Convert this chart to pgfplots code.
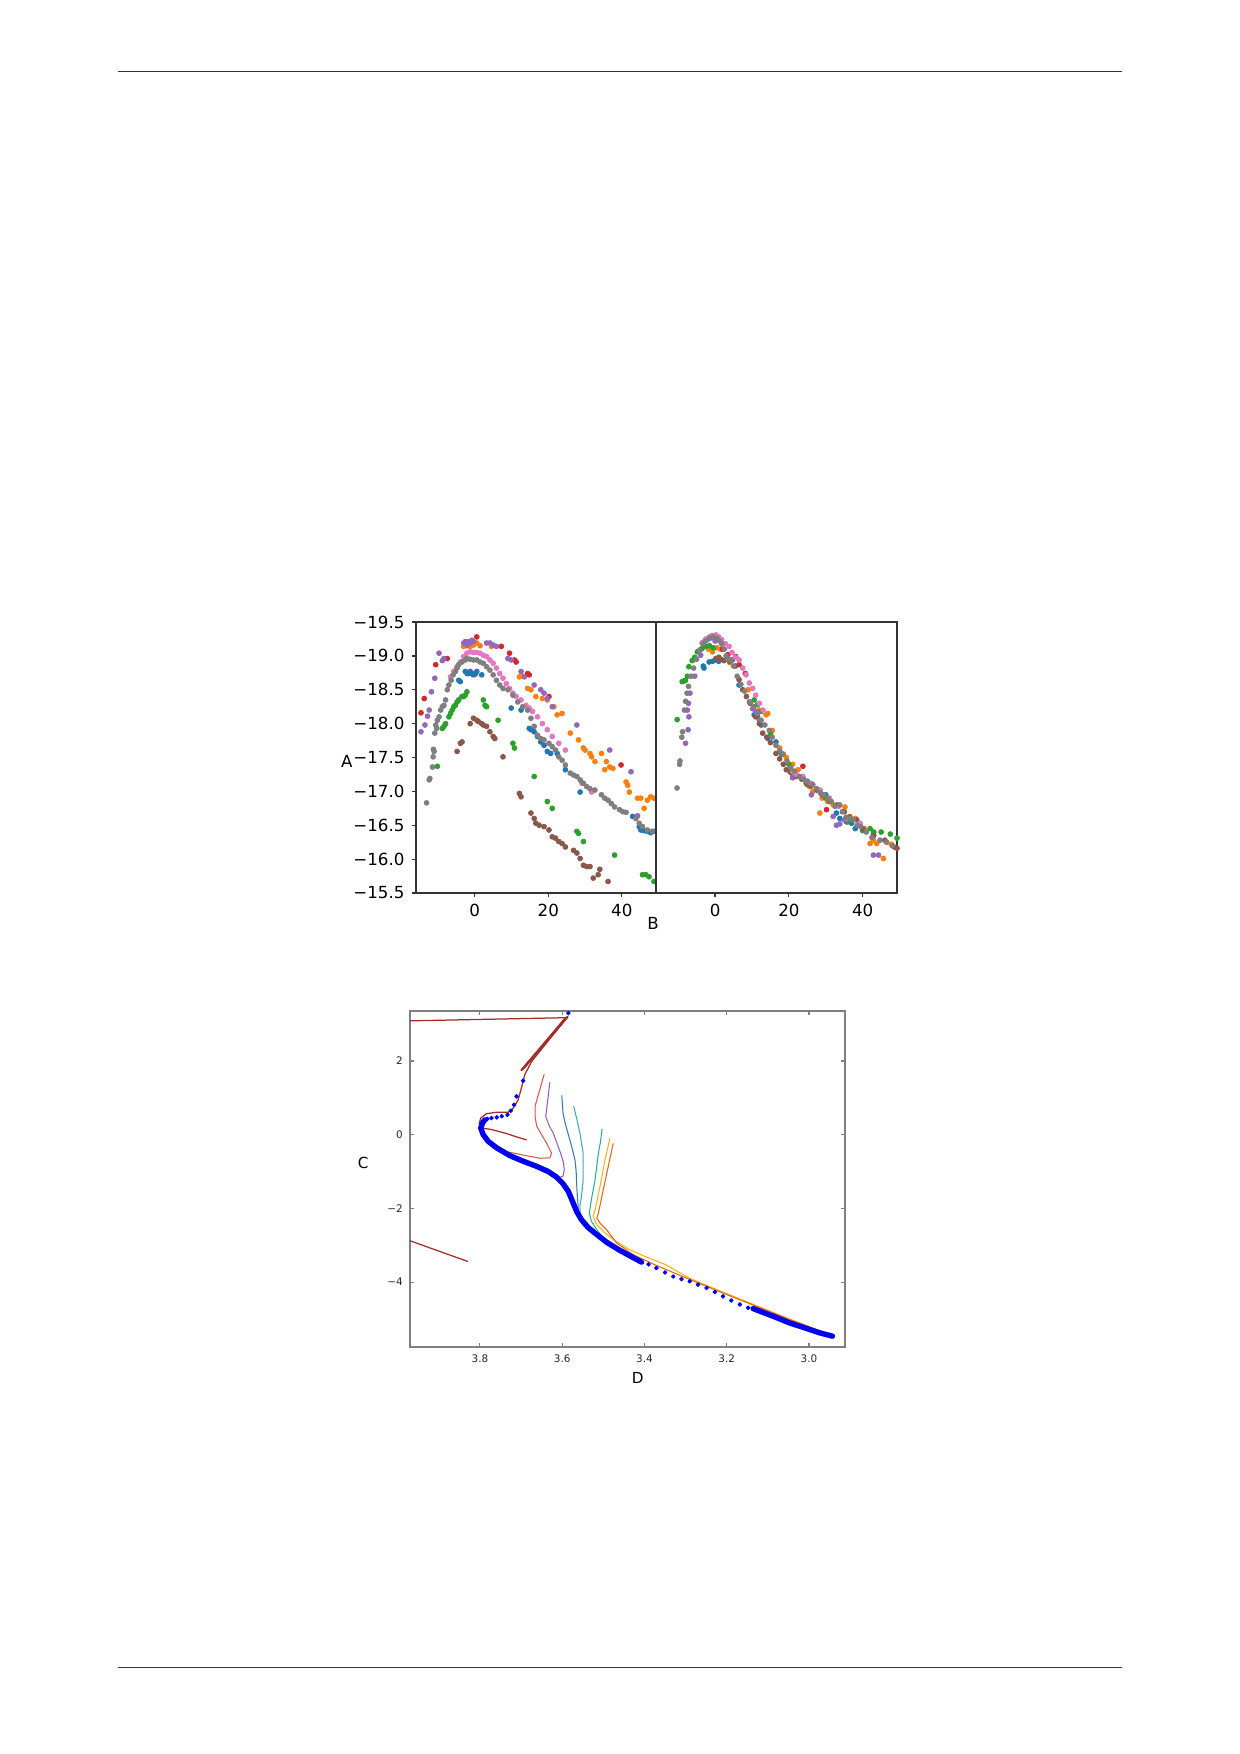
\documentclass[border=0pt]{standalone}
\usepackage{fontspec}
\setmainfont{DejaVu Sans}
\usepackage{pgfplots}
\pgfplotsset{compat=1.18}
\definecolor{tabblue}{HTML}{1F77B4}
\definecolor{taborange}{HTML}{FF7F0E}
\definecolor{tabgreen}{HTML}{2CA02C}
\definecolor{tabred}{HTML}{D62728}
\definecolor{tabpurple}{HTML}{9467BD}
\definecolor{tabbrown}{HTML}{8C564B}
\definecolor{tabpink}{HTML}{E377C2}
\definecolor{tabgray}{HTML}{7F7F7F}
\definecolor{lbrown}{RGB}{165,45,40}
\definecolor{lred}{RGB}{220,85,70}
\definecolor{lpurple}{RGB}{150,90,190}
\definecolor{lblue}{RGB}{50,120,190}
\definecolor{llblue}{RGB}{60,165,220}
\definecolor{lteal}{RGB}{30,180,150}
\definecolor{lgold}{RGB}{240,180,20}
\definecolor{lorange}{RGB}{230,100,20}
\definecolor{mainblue}{RGB}{0,0,240}
\pgfplotsset{
  topstyle/.style={
    scale only axis, anchor=north west, height=130.10pt,
    xmin=-16, xmax=49.3, ymin=-19.5, ymax=-15.5, y dir=reverse,
    axis line style={black!80, line width=0.6pt},
    tick style={black!80, line width=0.6pt},
    major tick length=2pt, tick align=outside, tick pos=left,
    xtick={0,20,40}, xticklabels={0,20,40},
    ticklabel style={font=\fontsize{8}{9}\selectfont, text=black},
    /pgf/number format/assume math mode=true,
    every axis plot/.append style={only marks, mark=*, mark size=1.15pt},
  },
}
\begin{document}
\begin{tikzpicture}
\useasboundingbox (0pt,0pt) rectangle (595.276pt,-842.03pt);
\draw[black!80, line width=0.5pt] (56.79pt,-34.42pt) -- (538.63pt,-34.42pt);
\draw[black!80, line width=0.5pt] (56.79pt,-800.40pt) -- (538.63pt,-800.40pt);

% ---------------- upper left panel
\begin{axis}[topstyle, at={(199.70pt,-298.60pt)}, width=115.21pt,
  ytick={-19.5,-19,-18.5,-18,-17.5,-17,-16.5,-16,-15.5},
  yticklabels={−19.5,−19.0,−18.5,−18.0,−17.5,−17.0,−16.5,−16.0,−15.5}]
\addplot[color=tabblue] coordinates {(-4.38,-18.64)(-3.93,-18.62)(-2.59,-18.77)(-2.14,-18.74)(-1.70,-18.74)(-1.25,-18.77)(-0.80,-18.74)(-0.36,-18.72)(0.09,-18.73)(0.54,-18.77)(1.88,-18.72)(9.91,-18.23)(12.59,-18.20)(14.82,-17.93)(15.27,-17.91)(16.16,-17.88)(17.05,-17.81)(17.95,-17.73)(18.84,-17.68)(19.73,-17.59)(20.63,-17.56)(22.41,-17.56)(24.64,-17.32)(28.66,-16.99)(42.95,-16.63)(44.73,-16.48)(45.18,-16.43)(46.07,-16.42)(46.96,-16.41)(47.86,-16.39)(48.75,-16.41)};
\addplot[color=taborange] coordinates {(-3.04,-19.14)(-2.14,-19.15)(-1.25,-19.14)(-0.36,-19.16)(0.54,-19.19)(1.43,-19.15)(4.55,-19.14)(12.14,-18.69)(13.04,-18.70)(14.38,-18.52)(15.27,-18.50)(16.61,-18.40)(18.39,-18.37)(19.73,-18.35)(21.52,-18.25)(22.41,-18.13)(23.75,-18.15)(25.98,-17.86)(28.21,-17.76)(29.55,-17.64)(30.00,-17.61)(31.34,-17.56)(31.79,-17.51)(32.68,-17.44)(34.46,-17.56)(35.36,-17.32)(35.80,-17.44)(36.70,-17.36)(37.59,-17.34)(41.16,-17.14)(41.61,-17.09)(42.05,-16.99)(44.29,-16.90)(45.18,-16.90)(46.07,-16.75)(46.96,-16.87)(47.86,-16.92)(48.75,-16.90)};
\addplot[color=tabgreen] coordinates {(-10.18,-17.37)(-8.84,-17.93)(-8.39,-17.96)(-7.95,-18.00)(-7.05,-18.10)(-6.61,-18.15)(-6.16,-18.20)(-5.71,-18.25)(-5.27,-18.27)(-4.82,-18.32)(-4.38,-18.35)(-3.48,-18.40)(-3.04,-18.40)(-2.59,-18.42)(-2.14,-18.47)(2.32,-18.35)(2.77,-18.27)(3.21,-18.25)(6.34,-18.05)(10.36,-17.71)(10.80,-17.64)(16.16,-17.22)(19.73,-16.85)(21.07,-16.75)(27.77,-16.41)(28.21,-16.38)(29.55,-16.26)(38.04,-16.06)(45.63,-15.77)(46.52,-15.77)(47.41,-15.74)(48.75,-15.67)};
\addplot[color=tabred] coordinates {(-14.64,-18.16)(-13.75,-18.37)(-10.63,-18.87)(-7.50,-18.96)(0.54,-19.28)(7.23,-19.14)(9.46,-19.04)(10.80,-18.94)(11.25,-18.91)(14.38,-18.74)(14.82,-18.72)(20.18,-18.40)(39.80,-17.39)};
\addplot[color=tabpurple] coordinates {(-14.64,-17.88)(-13.57,-17.98)(-12.86,-18.11)(-12.41,-18.20)(-11.79,-18.47)(-10.89,-18.67)(-9.73,-19.04)(-8.84,-18.93)(-8.39,-18.96)(-3.04,-19.19)(-2.59,-19.21)(-2.14,-19.16)(-1.70,-19.21)(-1.25,-19.19)(-0.80,-19.23)(-0.36,-19.21)(3.21,-19.19)(4.11,-19.19)(5.00,-19.16)(5.89,-19.14)(9.02,-18.96)(9.91,-18.94)(12.59,-18.77)(13.48,-18.69)(16.16,-18.57)(17.95,-18.50)(18.84,-18.45)(19.73,-18.37)(21.07,-18.25)(27.77,-17.98)(36.70,-17.61)(42.50,-17.29)(44.29,-16.64)};
\addplot[color=tabbrown] coordinates {(-4.82,-17.59)(-3.93,-17.71)(-3.48,-17.73)(-1.25,-18.00)(-0.36,-18.08)(0.54,-18.05)(0.98,-18.03)(1.88,-18.00)(2.32,-17.98)(3.21,-17.96)(4.11,-17.88)(5.00,-17.81)(5.45,-17.78)(7.68,-17.51)(12.14,-16.97)(12.59,-16.92)(15.27,-16.68)(16.16,-16.60)(16.61,-16.53)(17.50,-16.50)(18.84,-16.48)(20.18,-16.43)(21.07,-16.33)(21.96,-16.31)(22.86,-16.26)(23.75,-16.23)(24.64,-16.18)(26.88,-16.13)(27.77,-16.09)(28.66,-16.01)(29.55,-15.91)(30.45,-15.89)(31.34,-15.89)(32.23,-15.72)(33.57,-15.77)(34.02,-15.85)(36.25,-15.67)};
\addplot[color=tabpink] coordinates {(-6.61,-18.69)(-5.71,-18.77)(-4.82,-18.84)(-3.93,-18.91)(-3.04,-18.99)(-2.14,-19.04)(-1.25,-19.06)(-0.36,-19.05)(0.54,-19.05)(1.43,-19.04)(2.32,-19.01)(3.21,-18.99)(4.11,-18.94)(5.00,-18.89)(5.89,-18.82)(6.79,-18.74)(7.68,-18.67)(8.57,-18.59)(9.46,-18.52)(10.36,-18.45)(11.25,-18.40)(12.59,-18.35)(13.93,-18.27)(14.82,-18.23)(15.71,-18.18)(17.05,-18.10)(18.39,-18.00)(19.73,-17.91)(21.07,-17.81)(22.86,-17.71)(24.64,-17.61)(29.11,-17.12)(31.79,-16.99)};
\addplot[color=tabgray] coordinates {(-13.13,-16.83)(-12.41,-17.17)(-12.23,-17.19)(-11.52,-17.36)(-11.34,-17.51)(-11.25,-17.62)(-11.07,-17.59)(-10.89,-17.86)(-10.63,-17.98)(-10.36,-17.93)(-10.18,-18.05)(-9.73,-18.10)(-9.29,-18.20)(-8.84,-18.25)(-8.39,-18.27)(-7.95,-18.35)(-7.50,-18.50)(-7.05,-18.57)(-6.43,-18.64)(-5.89,-18.72)(-5.27,-18.77)(-4.82,-18.82)(-4.38,-18.87)(-3.48,-18.91)(-2.59,-18.94)(-2.14,-18.96)(-1.25,-18.95)(-0.36,-18.94)(0.54,-18.94)(1.43,-18.91)(2.32,-18.89)(3.21,-18.84)(4.11,-18.79)(5.00,-18.72)(5.89,-18.64)(6.79,-18.57)(7.68,-18.52)(9.02,-18.50)(10.36,-18.42)(11.70,-18.32)(13.04,-18.25)(14.38,-18.20)(15.27,-18.08)(16.16,-17.96)(17.05,-17.83)(17.95,-17.78)(18.84,-17.76)(20.18,-17.71)(21.07,-17.66)(21.96,-17.61)(22.86,-17.51)(23.75,-17.46)(24.64,-17.39)(25.98,-17.27)(26.88,-17.24)(27.77,-17.22)(28.66,-17.17)(29.55,-17.12)(30.45,-17.07)(31.34,-17.04)(32.68,-17.02)(34.46,-16.95)(35.36,-16.90)(36.25,-16.87)(37.14,-16.82)(38.04,-16.77)(39.38,-16.73)(40.27,-16.70)(41.16,-16.69)(43.84,-16.60)(44.73,-16.53)(45.63,-16.48)(46.96,-16.43)(48.30,-16.41)};
\end{axis}

% ---------------- upper right panel
\begin{axis}[topstyle, at={(314.92pt,-298.60pt)}, width=115.69pt, ytick=\empty]
\addplot[color=tabblue] coordinates {(-3.0,-18.82)(-3.2,-18.85)(-1.6,-18.91)(-0.7,-18.92)(0.2,-18.94)(1.0,-18.92)(6.5,-18.57)(10.6,-18.13)(11.5,-18.10)(12.5,-17.98)(14.3,-17.78)(16.5,-17.73)(18.0,-17.55)(21.1,-17.22)(25.0,-17.15)(30.0,-16.95)(32.9,-16.68)(33.8,-16.60)(35.6,-16.55)(37.0,-16.53)(38.0,-16.45)(42.9,-16.38)};
\addplot[color=taborange] coordinates {(-0.7,-19.06)(-1.8,-19.10)(0.5,-19.12)(1.5,-19.10)(4.0,-18.90)(9.0,-18.50)(12.0,-18.20)(13.8,-18.13)(14.3,-18.15)(15.5,-17.90)(17.5,-17.64)(18.5,-17.55)(19.3,-17.50)(21.0,-17.40)(22.5,-17.32)(25.6,-17.07)(26.5,-17.00)(28.4,-16.68)(29.0,-16.90)(30.5,-16.85)(32.0,-16.80)(35.2,-16.77)(36.5,-16.63)(38.0,-16.60)(40.5,-16.45)(42.0,-16.23)(42.9,-16.28)(43.8,-16.23)(45.6,-16.01)(46.5,-16.25)(47.8,-16.22)};
\addplot[color=tabgreen] coordinates {(-10.27,-18.06)(-8.9,-18.62)(-8.4,-18.63)(-8.0,-18.64)(-7.5,-18.70)(-7.1,-18.84)(-6.2,-18.93)(-5.5,-18.98)(-4.8,-19.06)(-4.0,-19.09)(-3.5,-19.11)(-2.6,-19.14)(-1.5,-19.15)(-0.5,-19.12)(10.6,-18.35)(11.5,-18.28)(12.5,-18.18)(15.0,-17.85)(20.0,-17.40)(25.0,-17.10)(30.0,-16.90)(36.0,-16.55)(40.0,-16.42)(42.0,-16.45)(43.0,-16.40)(45.0,-16.40)(47.5,-16.37)(49.3,-16.31)};
\addplot[color=tabred] coordinates {(2.0,-19.10)(3.5,-19.02)(5.6,-18.99)(6.5,-18.87)(8.2,-18.74)(23.8,-17.37)(30.2,-16.73)};
\addplot[color=tabpurple] coordinates {(-8.0,-17.71)(-7.3,-17.91)(-7.1,-18.10)(-7.5,-18.20)(-7.2,-18.30)(-6.8,-18.45)(-5.5,-18.70)(-3.9,-19.01)(-3.5,-19.19)(-2.8,-19.22)(-1.8,-19.25)(-1.0,-19.27)(0.0,-19.22)(9.3,-18.32)(10.2,-18.22)(11.1,-18.18)(12.0,-18.05)(20.2,-17.30)(21.0,-17.20)(26.1,-16.95)(32.0,-16.63)(32.9,-16.50)(33.8,-16.52)(35.0,-16.58)(42.9,-16.06)(44.3,-16.06)};
\addplot[color=tabbrown] coordinates {(0.2,-18.96)(1.0,-18.98)(1.6,-18.95)(2.4,-18.93)(3.2,-18.95)(4.0,-18.92)(4.7,-18.94)(5.5,-18.85)(6.5,-18.65)(7.5,-18.50)(8.5,-18.40)(9.5,-18.30)(11.0,-18.10)(12.0,-18.00)(12.9,-17.86)(14.0,-17.80)(15.0,-17.72)(16.5,-17.56)(17.5,-17.48)(18.5,-17.40)(19.3,-17.32)(20.5,-17.28)(22.0,-17.22)(23.5,-17.18)(24.7,-17.12)(26.0,-17.08)(27.5,-17.02)(29.0,-16.95)(31.1,-16.85)(33.0,-16.80)(35.0,-16.70)(36.5,-16.62)(38.4,-16.58)(40.0,-16.45)(43.0,-16.35)(46.0,-16.28)(48.5,-16.18)(49.3,-16.16)};
\addplot[color=tabpink] coordinates {(-3.5,-19.19)(-2.5,-19.25)(-1.6,-19.28)(-0.8,-19.30)(0.2,-19.31)(1.0,-19.28)(1.8,-19.24)(2.8,-19.18)(3.8,-19.14)(4.6,-19.05)(5.5,-18.98)(6.5,-18.94)(7.5,-18.82)(8.4,-18.72)(9.3,-18.60)(10.2,-18.52)(11.0,-18.42)(12.0,-18.30)(13.0,-18.20)(21.1,-17.29)(22.0,-17.25)(23.8,-17.22)(26.0,-17.12)(28.5,-17.02)(31.0,-16.90)(33.5,-16.78)(36.0,-16.60)(39.3,-16.53)};
\addplot[color=tabgray] coordinates {(-10.3,-17.05)(-9.6,-17.40)(-9.5,-17.45)(-9.0,-17.80)(-8.8,-17.88)(-8.3,-18.20)(-8.0,-18.33)(-7.6,-18.45)(-7.2,-18.55)(-6.5,-18.70)(-5.8,-18.82)(-5.0,-18.95)(-4.2,-19.08)(-3.2,-19.18)(-2.5,-19.22)(-1.5,-19.26)(-0.5,-19.28)(0.5,-19.26)(1.2,-19.22)(1.8,-19.18)(2.5,-19.10)(3.0,-19.00)(3.5,-18.95)(4.3,-18.94)(5.0,-18.85)(6.0,-18.70)(7.0,-18.58)(8.0,-18.48)(9.5,-18.32)(10.5,-18.25)(11.5,-18.15)(12.5,-18.05)(13.5,-17.98)(14.7,-17.90)(15.5,-17.80)(16.5,-17.68)(17.5,-17.60)(18.4,-17.55)(19.5,-17.45)(20.5,-17.35)(21.5,-17.30)(22.9,-17.22)(24.0,-17.18)(25.0,-17.14)(26.5,-17.10)(27.5,-17.04)(28.5,-16.98)(29.5,-16.95)(30.5,-16.90)(31.5,-16.85)(32.5,-16.78)(33.8,-16.80)(34.5,-16.70)(35.5,-16.62)(36.5,-16.60)(37.5,-16.58)(38.5,-16.50)(39.5,-16.48)(41.0,-16.40)(42.5,-16.32)(44.7,-16.28)(46.5,-16.25)(48.0,-16.20)};
\end{axis}
\node[font=\fontsize{8}{9}\selectfont] at (166.44pt,-365.66pt) {A};
\node[font=\fontsize{8}{9}\selectfont] at (313.48pt,-443.10pt) {B};

% ---------------- lower panel
\begin{axis}[scale only axis, anchor=north west, at={(196.82pt,-485.34pt)},
  width=208.83pt, height=161.30pt,
  x dir=reverse, xmin=2.9125, xmax=3.970, ymin=-5.764, ymax=3.357,
  xtick={3.0,3.2,3.4,3.6,3.8}, xticklabels={3.0,3.2,3.4,3.6,3.8},
  ytick={-4,-2,0,2}, yticklabels={−4,−2,0,2},
  tick align=inside, major tick length=2pt,
  axis line style={black!50, line width=0.7pt},
  tick style={black!50, line width=0.5pt},
  ticklabel style={font=\fontsize{5}{6}\selectfont, text=black!85},
  every axis plot/.append style={no markers, line join=round, line cap=round},
]
\addplot[lbrown, line width=0.6pt] coordinates {(3.970,3.09)(3.591,3.175)};
\addplot[lbrown, line width=1.1pt] coordinates {(3.587,3.20)(3.699,1.75)};
\addplot[lbrown, line width=1.1pt] coordinates {(3.592,3.16)(3.694,1.80)};
\addplot[lbrown, line width=0.6pt] coordinates {(3.970,-2.88)(3.830,-3.44)};
\addplot[lbrown, line width=0.6pt] coordinates {(3.589,3.17)(3.638,2.49)(3.674,1.99)(3.691,1.63)(3.699,1.27)(3.707,0.95)(3.719,0.72)(3.731,0.61)(3.759,0.61)(3.784,0.57)(3.798,0.45)(3.802,0.30)(3.796,0.18)(3.772,0.14)(3.735,0.03)(3.711,-0.06)(3.687,-0.14)};
\addplot[lred, line width=0.5pt] coordinates {(3.644,1.63)(3.655,1.2)(3.666,0.77)(3.666,0.5)(3.662,0.23)(3.650,0.0)(3.638,-0.23)(3.626,-0.50)(3.630,-0.63)(3.654,-0.64)(3.687,-0.57)(3.727,-0.48)(3.750,-0.42)};
\addplot[lpurple, line width=0.5pt] coordinates {(3.630,1.42)(3.635,0.95)(3.640,0.50)(3.632,0.25)(3.622,0.05)(3.613,-0.22)(3.604,-0.50)(3.597,-0.75)(3.595,-0.95)(3.598,-1.13)(3.614,-1.18)(3.620,-1.12)};
\addplot[lblue, line width=0.5pt] coordinates {(3.601,1.06)(3.598,0.59)(3.593,0.32)(3.585,0.0)(3.577,-0.32)(3.569,-0.68)(3.566,-1.0)(3.565,-1.31)(3.563,-1.7)(3.561,-1.95)(3.562,-2.1)};
\addplot[llblue, line width=0.5pt] coordinates {(3.572,0.77)(3.565,0.45)(3.557,0.05)(3.549,-0.50)(3.549,-1.22)(3.553,-1.67)(3.557,-1.95)(3.556,-2.2)};
\addplot[lteal, line width=0.5pt] coordinates {(3.503,0.15)(3.507,-0.2)(3.512,-0.50)(3.520,-1.22)(3.529,-1.76)(3.534,-2.13)(3.529,-2.35)(3.516,-2.58)(3.500,-2.80)(3.49,-2.93)};
\addplot[lgold, line width=0.5pt] coordinates {(3.484,-0.09)(3.490,-0.40)(3.496,-0.68)(3.508,-1.40)(3.520,-2.04)(3.525,-2.22)(3.516,-2.44)(3.496,-2.67)(3.475,-2.85)(3.44,-3.10)(3.40,-3.30)(3.35,-3.52)(3.29,-3.90)(3.21,-4.27)(3.13,-4.63)(3.05,-4.99)(2.96,-5.38)};
\addplot[lorange, line width=0.5pt] coordinates {(3.476,-0.24)(3.482,-0.55)(3.488,-0.86)(3.500,-1.49)(3.512,-2.13)(3.516,-2.26)(3.508,-2.40)(3.492,-2.58)(3.468,-2.94)(3.427,-3.26)(3.371,-3.55)(3.290,-3.93)(3.209,-4.30)(3.128,-4.66)(3.047,-5.02)(2.957,-5.40)};
\addplot[mainblue, line width=2.6pt] coordinates {(3.788,0.40)(3.793,0.33)(3.798,0.18)(3.792,0.0)(3.780,-0.18)(3.759,-0.36)(3.727,-0.57)(3.695,-0.72)(3.662,-0.86)(3.634,-1.0)(3.614,-1.15)(3.598,-1.33)(3.585,-1.54)(3.575,-1.81)(3.565,-2.08)(3.553,-2.31)(3.537,-2.52)(3.516,-2.71)(3.492,-2.92)(3.460,-3.14)(3.427,-3.34)(3.407,-3.46)};
\addplot[mainblue, line width=2.6pt] coordinates {(3.136,-4.72)(3.087,-4.93)(3.047,-5.11)(3.006,-5.26)(2.974,-5.38)(2.943,-5.47)};
\addplot[mainblue, only marks, mark=*, mark size=0.9pt] coordinates {(3.585,3.30)(3.695,1.465)(3.711,1.04)(3.717,0.81)(3.725,0.65)(3.733,0.54)(3.747,0.50)(3.759,0.47)(3.772,0.45)(3.782,0.43)(3.390,-3.52)(3.371,-3.62)(3.350,-3.74)(3.330,-3.85)(3.310,-3.92)(3.290,-3.98)(3.270,-4.07)(3.249,-4.16)(3.229,-4.27)(3.209,-4.39)(3.189,-4.50)(3.168,-4.61)(3.148,-4.70)};
\end{axis}
\node[font=\fontsize{7.3}{9}\selectfont] at (174.40pt,-558.50pt) {C};
\node[font=\fontsize{7.3}{9}\selectfont] at (306.10pt,-661.70pt) {D};
\end{tikzpicture}
\end{document}
